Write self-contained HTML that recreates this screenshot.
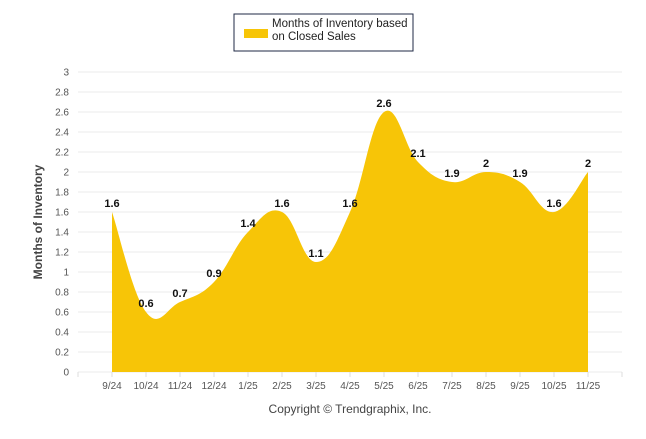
<!DOCTYPE html>
<html><head><meta charset="utf-8"><style>
body{margin:0;background:#fff;font-family:"Liberation Sans",Arial,sans-serif}
svg text{font-family:"Liberation Sans",Arial,sans-serif}
</style></head><body>
<svg id="c" width="646" height="434">
<g>
<rect x="234" y="14" width="179" height="37" fill="#fff" stroke="#1f2a44" stroke-width="1"/>
<rect x="244" y="29" width="24" height="9" fill="#f7c507"/>
<text x="272" y="27" font-size="11.5" fill="#222">Months of Inventory based</text>
<text x="272" y="40" font-size="11.5" fill="#222">on Closed Sales</text>
</g>
<g id="grid"></g><g id="area"></g><g id="labels"></g>
<text transform="translate(42,222) rotate(-90)" text-anchor="middle" font-size="12" font-weight="bold" fill="#444">Months of Inventory</text>
<text x="350" y="413" text-anchor="middle" font-size="12" fill="#444">Copyright © Trendgraphix, Inc.</text>
</svg>
<script>
const categories=["9/24","10/24","11/24","12/24","1/25","2/25","3/25","4/25","5/25","6/25","7/25","8/25","9/25","10/25","11/25"];
const values=[1.6,0.6,0.7,0.9,1.4,1.6,1.1,1.6,2.6,2.1,1.9,2,1.9,1.6,2];
const yTicks=[0,0.2,0.4,0.6,0.8,1,1.2,1.4,1.6,1.8,2,2.2,2.4,2.6,2.8,3];
const NS="http://www.w3.org/2000/svg";
const L=78,R=622,T=72,B=372,bw=(R-L)/16;
const x=i=>L+bw*(i+1), y=v=>B-(v/3)*(B-T);
function mk(t,a,p){const e=document.createElementNS(NS,t);for(const k in a)e.setAttribute(k,a[k]);p.appendChild(e);return e;}
const grid=document.getElementById('grid');
yTicks.forEach(t=>{
 const l=mk('line',{x1:L,x2:R,y1:y(t),y2:y(t),stroke:'#ebebeb'},grid);
 
 
 const tx=mk('text',{x:69,y:y(t)+3.5,'text-anchor':'end','font-size':'10',fill:'#555'},grid);tx.textContent=t;
 
 
});
for(let k=0;k<=16;k++){const l=mk('line',{x1:L+bw*k,x2:L+bw*k,y1:B,y2:B+5,stroke:'#ddd'},grid);
 
 }
categories.forEach((c,i)=>{const t=mk('text',{x:x(i),y:B+17,'text-anchor':'middle','font-size':'10',fill:'#555'},grid);t.textContent=c;
 
 });
// Catmull-Rom spline
const pts=values.map((v,i)=>[x(i),y(v)]);
let d=`M${pts[0][0]},${B}L${pts[0][0]},${pts[0][1]}`;
const k=1/5;
for(let i=1;i<pts.length;i++){
 const p0=pts[i-2]||pts[i-1],p1=pts[i-1],p2=pts[i],p3=pts[i+1]||pts[i];
 const c1=[p1[0]+(p2[0]-p0[0])*k,p1[1]+(p2[1]-p0[1])*k];
 const c2=[p2[0]-(p3[0]-p1[0])*k,p2[1]-(p3[1]-p1[1])*k];
 d+=`C${c1[0]},${c1[1]} ${c2[0]},${c2[1]} ${p2[0]},${p2[1]}`;
}
d+=`L${pts[pts.length-1][0]},${B}Z`;
const ar=mk('path',{d:d,fill:'#f7c507'},document.getElementById('area'));


const lg=document.getElementById('labels');
values.forEach((v,i)=>{const t=mk('text',{x:x(i),y:y(v)-5,'text-anchor':'middle','font-size':'11','font-weight':'bold',fill:'#111'},lg);t.textContent=v;
 
 });
</script>
</body></html>
